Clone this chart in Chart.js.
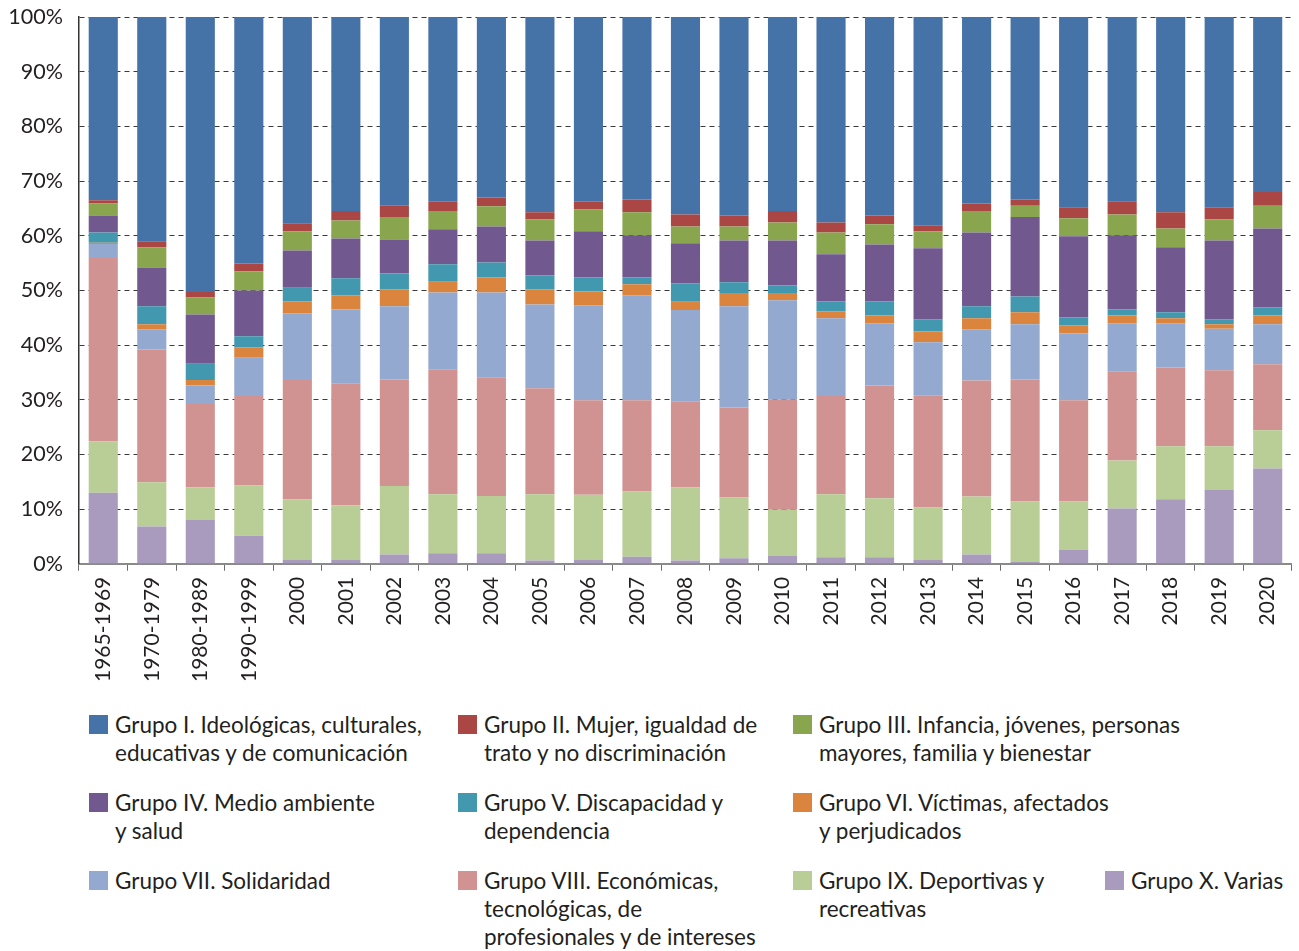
<!DOCTYPE html>
<html lang="es">
<head>
    <meta charset="UTF-8">
    <title>Asociaciones por grupo</title>
    <script src="https://cdn.jsdelivr.net/npm/chart.js"></script>
    <style>
        body {
            margin: 0;
            background: #fff;
            font-family: Lato, "Noto Sans", sans-serif;
            color: #231f20;
        }
        .chart-box {
            position: absolute;
            left: 0;
            top: 0;
            width: 1299px;
            height: 692px;
        }
        /* Leyenda en HTML, 4 columnas como en el original */
        .leyenda-item {
            position: absolute;
            font-size: 22.5px;
            line-height: 28px;
            padding-left: 26px;
            white-space: nowrap;
        }
        .leyenda-item span.cuadro {
            position: absolute;
            left: 0;
            top: 4px;
            width: 19px;
            height: 19px;
        }
    </style>
</head>
<body>

    <div class="chart-box">
        <canvas id="grafico" width="1299" height="692"></canvas>
    </div>
    <div id="leyenda"></div>

    <script>
        const periodos = ['1965-1969', '1970-1979', '1980-1989', '1990-1999', '2000', '2001', '2002', '2003',
            '2004', '2005', '2006', '2007', '2008', '2009', '2010', '2011', '2012', '2013', '2014', '2015',
            '2016', '2017', '2018', '2019', '2020'];

        // porcentajes (de abajo hacia arriba en cada barra)
        const grupoX    = [13.0, 6.8, 8.1, 5.1, 0.7, 0.8, 1.7, 1.9, 1.9, 0.6, 0.8, 1.3, 0.6, 1.0, 1.5, 1.2, 1.2, 0.8, 1.7, 0.4, 2.6, 10.1, 11.8, 13.6, 17.4];
        const grupoIX   = [9.4, 8.1, 5.9, 9.2, 11.1, 9.9, 12.5, 10.8, 10.5, 12.1, 11.8, 11.9, 13.4, 11.1, 8.4, 11.5, 10.8, 9.5, 10.6, 11.0, 8.8, 8.8, 9.7, 7.9, 7.0];
        const grupoVIII = [33.5, 24.3, 15.2, 16.4, 21.8, 22.3, 19.5, 22.8, 21.7, 19.4, 17.3, 16.7, 15.7, 16.5, 20.2, 18.0, 20.6, 20.5, 21.2, 22.3, 18.5, 16.3, 14.4, 13.9, 12.1];
        const grupoVII  = [2.6, 3.7, 3.4, 7.0, 12.2, 13.5, 13.4, 14.1, 15.5, 15.3, 17.4, 19.2, 16.7, 18.5, 18.1, 14.2, 11.4, 9.7, 9.4, 10.1, 12.2, 8.8, 8.1, 7.6, 7.3];
        const grupoVI   = [0.2, 0.9, 1.0, 1.9, 2.2, 2.6, 3.1, 2.0, 2.8, 2.8, 2.5, 2.0, 1.5, 2.4, 1.3, 1.3, 1.4, 2.0, 2.0, 2.2, 1.5, 1.4, 0.9, 0.8, 1.6];
        const grupoV    = [1.9, 3.3, 3.0, 2.0, 2.5, 3.1, 2.9, 3.2, 2.7, 2.5, 2.6, 1.3, 3.4, 2.0, 1.4, 1.8, 2.6, 2.2, 2.2, 2.9, 1.5, 1.1, 1.1, 0.9, 1.5];
        const grupoIV   = [3.1, 7.1, 9.0, 8.4, 6.8, 7.3, 6.2, 6.4, 6.6, 6.4, 8.4, 7.7, 7.3, 7.6, 8.2, 8.6, 10.4, 13.0, 13.5, 14.5, 14.8, 13.6, 11.9, 14.4, 14.4];
        const grupoIII  = [2.2, 3.7, 3.1, 3.5, 3.5, 3.3, 4.1, 3.3, 3.7, 3.9, 4.0, 4.2, 3.1, 2.6, 3.3, 4.0, 3.7, 3.1, 3.9, 2.1, 3.3, 3.8, 3.4, 3.9, 4.2];
        const grupoII   = [0.6, 1.1, 1.0, 1.4, 1.5, 1.7, 2.1, 1.7, 1.6, 1.3, 1.4, 2.3, 2.2, 2.0, 2.1, 1.8, 1.6, 1.0, 1.4, 1.1, 2.0, 2.4, 3.0, 2.1, 2.5];
        const grupoI    = [33.5, 41.0, 50.3, 45.1, 37.7, 35.5, 34.5, 33.8, 33.0, 35.7, 33.8, 33.4, 36.1, 36.3, 35.5, 37.6, 36.3, 38.2, 34.1, 33.4, 34.8, 33.7, 35.7, 34.9, 32.0];

        const ticksY = [0, 10, 20, 30, 40, 50, 60, 70, 80, 90, 100];

        // orden de la leyenda (I..X) con colores y texto partido en líneas
        const grupos = [
            { datos: grupoI,    color: '#4572a7', texto: 'Grupo I. Ideológicas, culturales,<br>educativas y de comunicación' },
            { datos: grupoII,   color: '#aa4643', texto: 'Grupo II. Mujer, igualdad de<br>trato y no discriminación' },
            { datos: grupoIII,  color: '#89a54e', texto: 'Grupo III. Infancia, jóvenes, personas<br>mayores, familia y bienestar' },
            { datos: grupoIV,   color: '#71588f', texto: 'Grupo IV. Medio ambiente<br>y salud' },
            { datos: grupoV,    color: '#4198af', texto: 'Grupo V. Discapacidad y<br>dependencia' },
            { datos: grupoVI,   color: '#db843d', texto: 'Grupo VI. Víctimas, afectados<br>y perjudicados' },
            { datos: grupoVII,  color: '#93a9cf', texto: 'Grupo VII. Solidaridad' },
            { datos: grupoVIII, color: '#d19392', texto: 'Grupo VIII. Económicas,<br>tecnológicas, de<br>profesionales y de intereses' },
            { datos: grupoIX,   color: '#b9cd96', texto: 'Grupo IX. Deportivas y<br>recreativas' },
            { datos: grupoX,    color: '#a99bbd', texto: 'Grupo X. Varias' }
        ];

        // posiciones de la leyenda: 3 filas, hasta 4 columnas
        const colX = [89, 458, 793, 1105];
        const filaY = [711, 789, 867];
        const celdas = [[0,0],[1,0],[2,0],[0,1],[1,1],[2,1],[0,2],[1,2],[2,2],[3,2]];

        const leyenda = document.getElementById('leyenda');
        grupos.forEach((g, i) => {
            const div = document.createElement('div');
            div.className = 'leyenda-item';
            div.style.left = colX[celdas[i][0]] + 'px';
            div.style.top = filaY[celdas[i][1]] + 'px';
            div.innerHTML = '<span class="cuadro" style="background:' + g.color + '"></span>' + g.texto;
            leyenda.appendChild(div);
        });

        Chart.defaults.font.family = 'Lato, "Noto Sans", sans-serif';
        Chart.defaults.color = '#231f20';

        // la barra se apila de abajo (X) a arriba (I)
        const datasets = grupos.slice().reverse().map(g => ({
            label: g.texto.replace(/<br>/g, ' '),
            data: g.datos,
            backgroundColor: g.color,
            borderWidth: 0,
            categoryPercentage: 1.0,
            barPercentage: 0.6
        }));

        const ctx = document.getElementById('grafico').getContext('2d');
        new Chart(ctx, {
            type: 'bar',
            data: { labels: periodos, datasets: datasets },
            options: {
                responsive: false,
                animation: false,
                layout: { padding: { top: 0, right: 5, left: 0, bottom: 4 } },
                plugins: {
                    legend: { display: false },
                    tooltip: { enabled: false }
                },
                scales: {
                    x: {
                        stacked: true,
                        grid: {
                            offset: true,
                            drawOnChartArea: false,
                            drawTicks: true,
                            tickLength: 7,
                            color: '#6d6e71'
                        },
                        border: { color: '#8a8a8a', width: 2 },
                        ticks: {
                            minRotation: 90,
                            maxRotation: 90,
                            padding: 6,
                            font: { size: 21 }
                        }
                    },
                    y: {
                        stacked: true,
                        min: 0,
                        max: 100,
                        afterBuildTicks: axis => { axis.ticks = ticksY.map(v => ({ value: v })); },
                        afterFit: axis => {
                            axis.width = 79;
                            axis.paddingTop = 17;
                        },
                        grid: {
                            color: '#3a3a3a',
                            drawTicks: false,
                            lineWidth: 1
                        },
                        border: { color: '#333', width: 1.5, dash: [5, 4] },
                        ticks: {
                            padding: 16,
                            font: { size: 21.5 },
                            callback: v => v + '%'
                        }
                    }
                }
            }
        });
    </script>

</body>
</html>
